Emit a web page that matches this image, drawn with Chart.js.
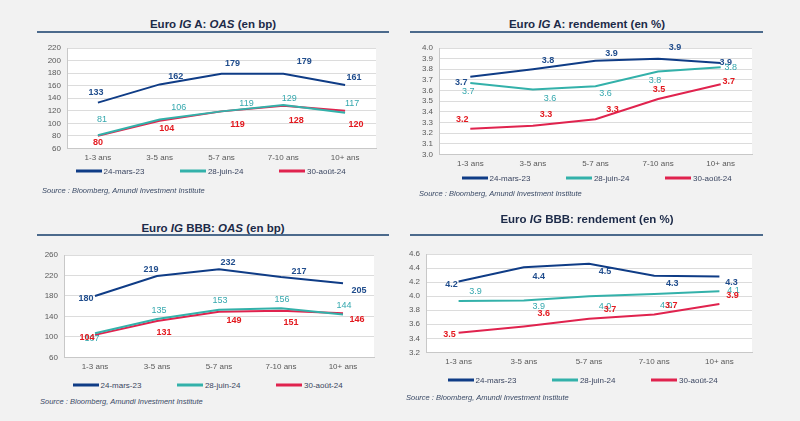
<!DOCTYPE html>
<html lang="fr">
<head>
    <meta charset="UTF-8">
    <title>Euro IG A / BBB</title>
    <script src="https://cdn.jsdelivr.net/npm/chart.js"></script>
    <style>
        body {
            margin: 0;
            width: 800px;
            height: 421px;
            background: #f2f2f2;
            font-family: "Liberation Sans", Arial, sans-serif;
            position: relative;
            overflow: hidden;
        }

        canvas {
            position: absolute;
        }

        .title {
            position: absolute;
            transform: translate(-50%, -50%);
            font-size: 11.5px;
            font-weight: bold;
            color: #1c2a48;
            white-space: nowrap;
        }

        .rule {
            position: absolute;
            height: 2px;
            background: #4c6a8c;
        }

        .legend {
            position: absolute;
            display: flex;
            gap: 36px;
            transform: translateY(-50%);
            font-size: 8px;
            color: #3a4560;
        }

        .legend span.item {
            display: flex;
            align-items: center;
        }

        .legend span.line {
            display: inline-block;
            width: 26px;
            height: 2.5px;
            margin-right: 1.5px;
        }

        .source {
            position: absolute;
            transform: translateY(-50%);
            font-size: 7.5px;
            font-style: italic;
            color: #3a4a66;
            white-space: nowrap;
        }
    </style>
</head>
<body>
    <div class="title" style="left:213px; top:24px;">Euro <i>IG</i> A: <i>OAS</i> (en bp)</div>
    <div class="rule" style="left:37px; top:31px; width:352px;"></div>
    <canvas id="oasA" width="360" height="136" style="left:30px; top:36px;"></canvas>
    <div class="legend" id="legend-oasA" style="left:76px; top:171px;"></div>
    <div class="source" style="left:42px; top:190px;">Source : Bloomberg, Amundi Investment Institute</div>

    <div class="title" style="left:587px; top:24px;">Euro <i>IG</i> A: rendement (en %)</div>
    <div class="rule" style="left:410px; top:31px; width:353px;"></div>
    <canvas id="rdtA" width="365" height="146" style="left:400px; top:36px;"></canvas>
    <div class="legend" id="legend-rdtA" style="left:462px; top:178px;"></div>
    <div class="source" style="left:419px; top:193px;">Source : Bloomberg, Amundi Investment Institute</div>

    <div class="title" style="left:213px; top:228px;">Euro <i>IG</i> BBB: <i>OAS</i> (en bp)</div>
    <div class="rule" style="left:37px; top:234px; width:352px;"></div>
    <canvas id="oasBBB" width="360" height="136" style="left:30px; top:243px;"></canvas>
    <div class="legend" id="legend-oasBBB" style="left:73px; top:385px;"></div>
    <div class="source" style="left:40px; top:401px;">Source : Bloomberg, Amundi Investment Institute</div>

    <div class="title" style="left:587px; top:219px;">Euro <i>IG</i> BBB: rendement (en %)</div>
    <div class="rule" style="left:410px; top:234px; width:353px;"></div>
    <canvas id="rdtBBB" width="365" height="136" style="left:400px; top:242px;"></canvas>
    <div class="legend" id="legend-rdtBBB" style="left:448px; top:380px;"></div>
    <div class="source" style="left:406px; top:397px;">Source : Bloomberg, Amundi Investment Institute</div>

    <script>
        const categories = ['1-3 ans', '3-5 ans', '5-7 ans', '7-10 ans', '10+ ans'];
        const seriesNames = ['24-mars-23', '28-juin-24', '30-août-24'];

        // Euro IG A - OAS (bp)
        const oasA_mar23 = [133, 162, 179, 179, 161];
        const oasA_jun24 = [81, 106, 119, 129, 117];
        const oasA_aug24 = [80, 104, 119, 128, 120];

        // Euro IG A - rendement (%)
        const rdtA_mar23 = [3.73, 3.80, 3.88, 3.90, 3.86];
        const rdtA_jun24 = [3.67, 3.61, 3.64, 3.78, 3.82];
        const rdtA_aug24 = [3.24, 3.27, 3.33, 3.52, 3.66];

        // Euro IG BBB - OAS (bp)
        const oasBBB_mar23 = [180, 219, 232, 217, 205];
        const oasBBB_jun24 = [107, 135, 153, 156, 144];
        const oasBBB_aug24 = [104, 131, 149, 151, 146];

        // Euro IG BBB - rendement (%)
        const rdtBBB_mar23 = [4.21, 4.41, 4.46, 4.29, 4.28];
        const rdtBBB_jun24 = [3.93, 3.94, 4.00, 4.03, 4.07];
        const rdtBBB_aug24 = [3.48, 3.57, 3.68, 3.74, 3.89];

        const lineColors = ['#0f3c86', '#33b1aa', '#e0234e'];
        const labelColors = ['#1f4c8c', '#35a8ae', '#e3191f'];
        const labelWeights = ['bold', 'normal', 'bold'];

        // white plot area
        const plotBackground = {
            id: 'plotBackground',
            beforeDraw(chart) {
                const a = chart.chartArea;
                chart.ctx.save();
                chart.ctx.fillStyle = '#ffffff';
                chart.ctx.fillRect(a.left, a.top, a.right - a.left, a.bottom - a.top);
                chart.ctx.restore();
            }
        };

        // value labels next to each point, nudged like the original
        const valueLabels = {
            id: 'valueLabels',
            afterDatasetsDraw(chart, args, opts) {
                const ctx = chart.ctx;
                ctx.save();
                ctx.textAlign = 'center';
                ctx.textBaseline = 'middle';
                chart.data.datasets.forEach((ds, di) => {
                    const meta = chart.getDatasetMeta(di);
                    ctx.fillStyle = labelColors[di];
                    ctx.font = labelWeights[di] + ' 9px "Liberation Sans", Arial, sans-serif';
                    meta.data.forEach((pt, i) => {
                        const off = opts.offsets[di][i];
                        ctx.fillText(ds.data[i].toFixed(opts.decimals), pt.x + off[0], pt.y + off[1]);
                    });
                });
                ctx.restore();
            }
        };

        function buildLegend(id) {
            const box = document.getElementById(id);
            seriesNames.forEach((name, i) => {
                const item = document.createElement('span');
                item.className = 'item';
                item.innerHTML = '<span class="line" style="background:' + lineColors[i] + '"></span>' + name;
                box.appendChild(item);
            });
        }

        function makeChart(canvasId, series, yMin, yMax, step, decimals, axisWidth, pad, offsets) {
            const ctx = document.getElementById(canvasId).getContext('2d');
            return new Chart(ctx, {
                type: 'line',
                data: {
                    labels: categories,
                    datasets: series.map((data, i) => ({
                        label: seriesNames[i],
                        data: data,
                        borderColor: lineColors[i],
                        backgroundColor: lineColors[i],
                        borderWidth: 2,
                        pointRadius: 0,
                        tension: 0,
                        fill: false
                    }))
                },
                options: {
                    responsive: false,
                    animation: false,
                    layout: { padding: pad },
                    plugins: {
                        legend: { display: false },
                        tooltip: { enabled: false },
                        valueLabels: { offsets: offsets, decimals: decimals }
                    },
                    scales: {
                        x: {
                            offset: true,
                            grid: { display: false, drawTicks: false },
                            border: { color: '#c8c8c8' },
                            ticks: {
                                color: '#595959',
                                padding: 5,
                                maxRotation: 0,
                                autoSkip: false,
                                font: { size: 8, family: '"Liberation Sans", Arial, sans-serif' }
                            }
                        },
                        y: {
                            min: yMin,
                            max: yMax,
                            grid: { color: '#dcdcdc', drawTicks: false },
                            border: { color: '#c8c8c8' },
                            ticks: {
                                stepSize: step,
                                autoSkip: false,
                                color: '#595959',
                                padding: 6,
                                font: { size: 8, family: '"Liberation Sans", Arial, sans-serif' },
                                callback: (v) => v.toFixed(decimals)
                            },
                            afterFit: (s) => { s.width = axisWidth; }
                        }
                    }
                },
                plugins: [plotBackground, valueLabels]
            });
        }

        makeChart('oasA', [oasA_mar23, oasA_jun24, oasA_aug24], 60, 220, 20, 0, 37,
            { left: 0, right: 14, top: 12, bottom: 4 },
            [
                [[-2, -10], [16, -8], [11, -10], [21, -12], [9, -8]],
                [[4, -16], [19, -12], [25, -8], [6, -7], [7, -9]],
                [[0, 7], [7, 8], [16, 13], [13, 15], [11, 14]]
            ]);

        makeChart('rdtA', [rdtA_mar23, rdtA_jun24, rdtA_aug24], 3.0, 4.0, 0.1, 1, 39,
            { left: 0, right: 13, top: 12, bottom: 8 },
            [
                [[-9, 6], [15, -9], [16, -7], [17, -11], [5, 0]],
                [[-2, 8], [17, 9], [10, 7], [-3, 9], [10, 0]],
                [[-8, -9], [13, -11], [17, -10], [1, -10], [8, -3]]
            ]);

        makeChart('oasBBB', [oasBBB_mar23, oasBBB_jun24, oasBBB_aug24], 60, 260, 40, 0, 34,
            { left: 0, right: 16, top: 12, bottom: 2 },
            [
                [[-9, 3], [-6, -6], [9, -7], [18, -6], [16, 7]],
                [[-3, 5], [2, -8], [1, -9], [1, -9], [1, -9]],
                [[-8, 3], [7, 11], [15, 9], [10, 12], [14, 6]]
            ]);

        makeChart('rdtBBB', [rdtBBB_mar23, rdtBBB_jun24, rdtBBB_aug24], 3.2, 4.6, 0.2, 1, 26,
            { left: 0, right: 13, top: 12, bottom: 6 },
            [
                [[-7, 3], [15, 9], [16, 8], [18, 8], [12, 6]],
                [[17, -10], [15, 6], [16, 10], [12, 11], [14, -1]],
                [[-9, 2], [20, -13], [21, -9], [17, -9], [13, -8]]
            ]);

        buildLegend('legend-oasA');
        buildLegend('legend-rdtA');
        buildLegend('legend-oasBBB');
        buildLegend('legend-rdtBBB');
    </script>
</body>
</html>
